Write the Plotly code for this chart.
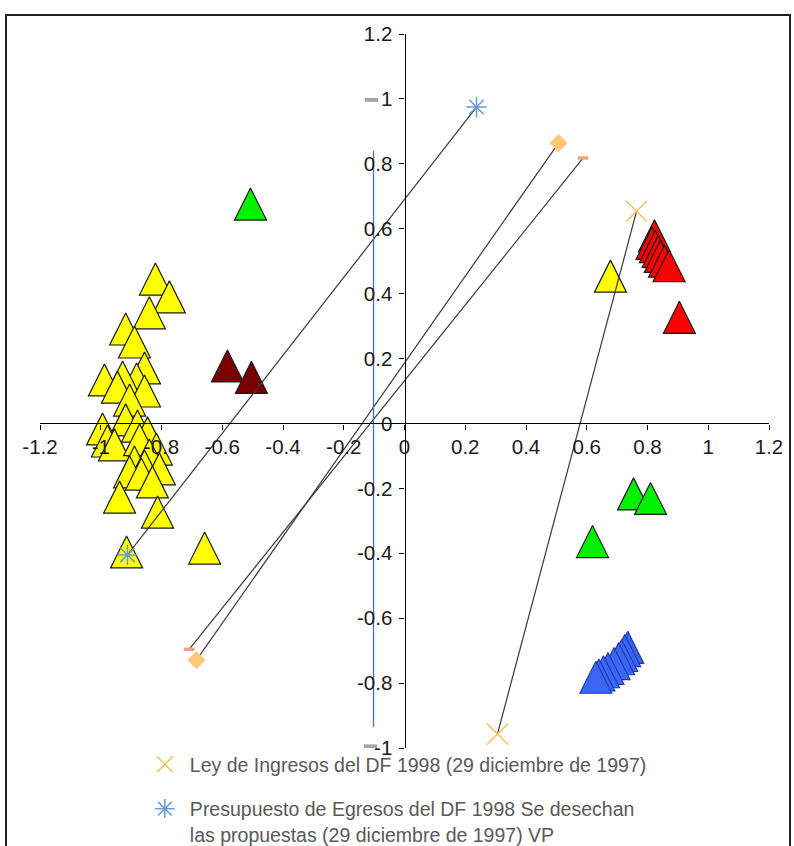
import plotly.graph_objects as go

# ---------------- data ----------------
x_ticks = [-1.2, -1.0, -0.8, -0.6, -0.4, -0.2, 0.0, 0.2, 0.4, 0.6, 0.8, 1.0, 1.2]
x_tick_labels = ["-1.2", "-1", "-0.8", "-0.6", "-0.4", "-0.2", "0", "0.2", "0.4", "0.6", "0.8", "1", "1.2"]
y_ticks = [-1.0, -0.8, -0.6, -0.4, -0.2, 0.0, 0.2, 0.4, 0.6, 0.8, 1.0, 1.2]
y_tick_labels = ["-1", "-0.8", "-0.6", "-0.4", "-0.2", "0", "0.2", "0.4", "0.6", "0.8", "1", "1.2"]

yellow_x = [-0.820, -0.774, -0.840, -0.918, -0.889, -0.856, -0.882, -0.988, -0.928, -0.945,
            -0.856, -0.905, -0.918, -0.994, -0.879, -0.846, -0.978, -0.817, -0.955, -0.872,
            -0.840, -0.889, -0.856, -0.807, -0.905, -0.866, -0.830, -0.938, -0.813, -0.915,
            -0.658, 0.678]
yellow_y = [0.445, 0.390, 0.341, 0.291, 0.251, 0.171, 0.137, 0.134, 0.143, 0.112,
            0.100, 0.072, 0.011, -0.017, -0.008, -0.029, -0.054, -0.079, -0.066, -0.050,
            -0.097, -0.119, -0.131, -0.140, -0.149, -0.156, -0.180, -0.227, -0.273, -0.396,
            -0.384, 0.454]

red_x = [0.823, 0.815, 0.826, 0.835, 0.842, 0.856, 0.871, 0.905]
red_y = [0.578, 0.555, 0.545, 0.530, 0.515, 0.500, 0.486, 0.327]

darkred_x = [-0.583, -0.504]
darkred_y = [0.177, 0.142]

green_x = [-0.507, 0.754, 0.810, 0.619]
green_y = [0.676, -0.217, -0.231, -0.364]

blue_x = [0.735, 0.725, 0.715, 0.705, 0.690, 0.670, 0.655, 0.640, 0.630]
blue_y = [-0.690, -0.700, -0.715, -0.725, -0.740, -0.755, -0.765, -0.775, -0.782]

ley_x = [0.764, 0.306]
ley_y = [0.654, -0.957]

presup_x = [0.237, -0.912]
presup_y = [0.975, -0.405]

diamond_x = [0.507, -0.685]
diamond_y = [0.864, -0.729]

salmon_x = [0.588, -0.709]
salmon_y = [0.818, -0.696]

gray_x = [-0.109, -0.112]
gray_y = [0.997, -0.995]

vline_x = [-0.102, -0.102]
vline_y = [0.840, -0.935]

ley_name = "Ley de Ingresos del DF 1998 (29 diciembre de 1997)"
presup_name = "Presupuesto de Egresos del DF 1998 Se desechan<br>las propuestas (29 diciembre de 1997) VP"

# ---------------- figure ----------------
X_RANGE = [-1.2, 1.2]
Y_RANGE = [-1.0, 1.2]
TRI = 32
FIG_W, FIG_H = 794, 900

fig = go.Figure()


def tri_trace(xs, ys, fill, edge):
    return go.Scatter(
        x=xs, y=ys, mode="markers", showlegend=False, hoverinfo="skip",
        marker=dict(symbol="arrow-down", angle=180, standoff=TRI / 2, size=TRI,
                    color=fill, line=dict(color=edge, width=1.2)),
    )


fig.add_trace(tri_trace(yellow_x, yellow_y, "#FFFF00", "#1a1a1a"))
fig.add_trace(tri_trace(red_x, red_y, "#FF0000", "#1a1a1a"))
fig.add_trace(tri_trace(darkred_x, darkred_y, "#7A0000", "#1a1a1a"))
fig.add_trace(tri_trace(green_x, green_y, "#00F000", "#1a1a1a"))
fig.add_trace(tri_trace(blue_x, blue_y, "#3A66F2", "#1F3FB0"))

# connecting lines
for xs, ys in [(ley_x, ley_y), (presup_x, presup_y), (diamond_x, diamond_y), (salmon_x, salmon_y)]:
    fig.add_trace(go.Scatter(x=xs, y=ys, mode="lines", showlegend=False, hoverinfo="skip",
                             line=dict(color="#3a3a3a", width=1.2)))

fig.add_trace(go.Scatter(x=vline_x, y=vline_y, mode="lines", showlegend=False, hoverinfo="skip",
                         line=dict(color="#4472C4", width=1.3)))

fig.add_trace(go.Scatter(x=diamond_x, y=diamond_y, mode="markers", showlegend=False,
                         marker=dict(symbol="diamond", size=14, color="#FFC878", line=dict(width=0))))
fig.add_trace(go.Scatter(x=salmon_x, y=salmon_y, mode="markers", showlegend=False,
                         marker=dict(symbol="line-ew-open", size=7.5, color="#F2A08A",
                                     line=dict(color="#F2A08A", width=3.5))))
fig.add_trace(go.Scatter(x=gray_x, y=gray_y, mode="markers", showlegend=False,
                         marker=dict(symbol="line-ew-open", size=9.5, color="#A6A6A6",
                                     line=dict(color="#A6A6A6", width=4))))

fig.add_trace(go.Scatter(x=ley_x, y=ley_y, mode="markers", name=ley_name,
                         legendgroup="a",
                         marker=dict(symbol="x-thin-open", size=21, color="#F2C15A",
                                     line=dict(color="#F2C15A", width=1.5))))
fig.add_trace(go.Scatter(x=presup_x, y=presup_y, mode="markers", name=presup_name,
                         legendgroup="b",
                         marker=dict(symbol="asterisk-open", size=17, color="#6A9AD6",
                                     line=dict(color="#6A9AD6", width=1.5))))

tick_font = dict(family="Liberation Sans Narrow, Liberation Sans, Arial", size=20.5, color="#1a1a1a")

fig.update_layout(
    width=FIG_W, height=FIG_H,
    margin=dict(l=40, r=25, t=34, b=FIG_H - 748),
    paper_bgcolor="white", plot_bgcolor="white",
    showlegend=True,
    legend=dict(x=0.137, y=0.004, xanchor="left", yanchor="top",
                font=dict(family="Liberation Sans, Arial", size=19.5, color="#595959"),
                bgcolor="rgba(0,0,0,0)", traceorder="grouped", tracegroupgap=16,
                valign="top", itemwidth=40),
    xaxis=dict(range=X_RANGE, tickvals=x_ticks, ticktext=x_tick_labels, automargin=False,
               showgrid=False, zeroline=False, showline=True, linecolor="black", linewidth=1.2,
               ticks="outside", ticklen=5, tickcolor="black", tickwidth=1.2,
               anchor="free", position=(0 - Y_RANGE[0]) / (Y_RANGE[1] - Y_RANGE[0]),
               tickfont=tick_font),
    yaxis=dict(range=Y_RANGE, tickvals=y_ticks, ticktext=y_tick_labels, automargin=False,
               showgrid=False, zeroline=False, showline=True, linecolor="black", linewidth=1.2,
               ticks="outside", ticklen=5, tickcolor="black", tickwidth=1.2,
               ticklabelstandoff=3,
               anchor="free", position=(0 - X_RANGE[0]) / (X_RANGE[1] - X_RANGE[0]),
               tickfont=tick_font),
    shapes=[dict(type="rect", xref="paper", yref="paper",
                 x0=-0.0466, x1=1.0288, y0=-0.2, y1=1.0266,
                 line=dict(color="#222222", width=2), fillcolor="rgba(0,0,0,0)", layer="below")],
)

fig.write_html("out.html", config={"displayModeBar": False},
               post_script="document.body.style.margin='0';")
